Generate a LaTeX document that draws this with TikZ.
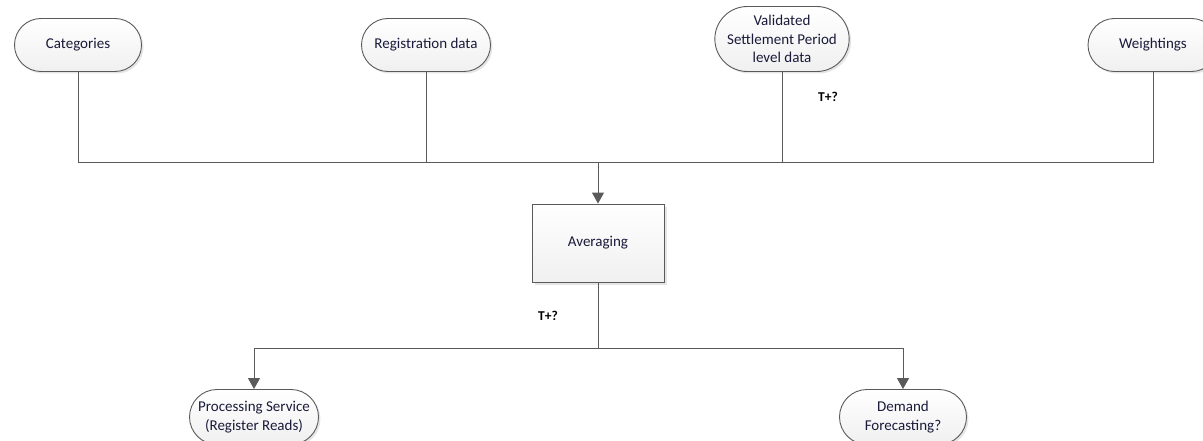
\documentclass[tikz,border=0pt]{standalone}
\usepackage{fontspec}
\setmainfont{Carlito}
\usetikzlibrary{arrows.meta,shapes.misc,shadows}
\definecolor{linec}{HTML}{5A5A5A}
\definecolor{txtc}{HTML}{1A1A3A}
\tikzset{
  term/.style={rounded rectangle, draw=linec, line width=0.9pt, top color=white, bottom color=gray!12,
    minimum height=53pt, minimum width=#1, align=center, inner sep=2pt, text=txtc,
    font=\fontsize{15}{18.5}\selectfont,
    drop shadow={shadow xshift=2pt, shadow yshift=-2pt, fill=gray!40, opacity=0.5}},
  procbox/.style={rectangle, draw=linec, line width=0.9pt, top color=white, bottom color=gray!12,
    minimum height=78pt, minimum width=132pt, align=center, text=txtc,
    font=\fontsize{15}{18.5}\selectfont,
    drop shadow={shadow xshift=3pt, shadow yshift=-3pt, fill=gray!40, opacity=0.5}},
  conn/.style={draw=linec, line width=1pt},
  arr/.style={conn, -{Triangle[length=11pt,width=12pt]}},
  lbl/.style={font=\fontsize{13.5}{16}\selectfont\bfseries, text=black},
}
\begin{document}
\begin{tikzpicture}[x=1pt,y=-1pt]
\useasboundingbox (0,0) rectangle (1203,441);
\clip (0,0) rectangle (1203,441);
\node[term=131pt] (cat) at (78,45) {Categories};
\node[term=133pt] (reg) at (426,45) {Registration data};
\node[term=133pt, minimum height=65pt] (val) at (782,39) {Validated\\Settlement Period\\level data};
\node[term=134pt] (wei) at (1153,45) {Weightings};
\node[procbox] (avg) at (598,243) {Averaging};
\node[term=133pt, minimum height=55pt] (proc) at (254,417) {Processing Service\\(Register Reads)};
\node[term=131pt, minimum height=55pt] (dem) at (903,417) {Demand\\Forecasting?};
\coordinate (jl) at (78,163);
\coordinate (jr) at (1153,163);
\coordinate (jc) at (598,163);
\coordinate (bc) at (598,348);
\coordinate (bl) at (254,348);
\coordinate (br) at (903,348);
\draw[conn] (cat.south) -- (jl) -- (jr) -- (wei.south);
\draw[conn] (reg.south) -- (reg.south |- jl);
\draw[conn] (val.south) -- (val.south |- jl);
\draw[arr] (jc) -- (avg.north);
\draw[conn] (avg.south) -- (bc);
\draw[arr] (bc) -- (bl) -- (proc.north);
\draw[arr] (bc) -- (br) -- (dem.north);
\node[lbl] (t1) at (828,97) {T+?};
\node[lbl] (t2) at (548,316) {T+?};
\end{tikzpicture}
\end{document}
